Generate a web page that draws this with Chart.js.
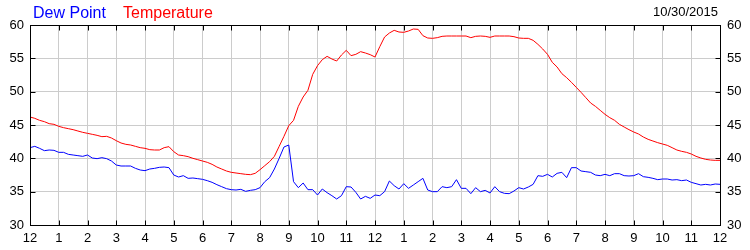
<!DOCTYPE html>
<html>
<head>
<meta charset="utf-8">
<script src="https://cdn.jsdelivr.net/npm/chart.js@4.4.1/dist/chart.umd.min.js"></script>
<style>
  html, body { margin: 0; padding: 0; background: #fff; }
  #wrap { width: 750px; height: 250px; }
</style>
</head>
<body>
<div id="wrap"><canvas id="weatherChart" width="750" height="250"></canvas></div>
<script>
// data, one sample every 10 minutes, midnight to midnight
const chartDate = '10/30/2015';
const seriesNames = ['Dew Point', 'Temperature'];
const hourLabels = ['12','1','2','3','4','5','6','7','8','9','10','11',
                    '12','1','2','3','4','5','6','7','8','9','10','11','12'];
const stepHours = 1 / 6;

const temperature = [
  46.2, 46.0, 45.7, 45.5, 45.2, 45.1,
  44.8, 44.6, 44.45, 44.3, 44.1, 43.9,
  43.75, 43.6, 43.45, 43.25, 43.3, 43.05,
  42.65, 42.3, 42.1, 42.0, 41.8, 41.6,
  41.5, 41.3, 41.25, 41.25, 41.6, 41.75,
  41.0, 40.5, 40.4, 40.25, 40.0, 39.8,
  39.6, 39.4, 39.1, 38.7, 38.4, 38.1,
  37.9, 37.8, 37.7, 37.6, 37.55, 37.75,
  38.3, 38.9, 39.5, 40.3, 41.8, 43.3,
  44.9, 45.7, 47.8, 49.2, 50.2, 52.6,
  53.9, 54.8, 55.3, 54.9, 54.6, 55.5,
  56.2, 55.4, 55.6, 56.0, 55.8, 55.55,
  55.2, 56.75, 58.2, 58.8, 59.2, 58.95,
  58.9, 59.1, 59.4, 59.35, 58.4, 58.05,
  58.0, 58.1, 58.3, 58.35, 58.35, 58.35,
  58.35, 58.35, 58.1, 58.3, 58.35, 58.3,
  58.15, 58.35, 58.35, 58.35, 58.35, 58.25,
  58.05, 58.0, 58.0, 57.7, 57.1, 56.4,
  55.6, 54.4, 53.7, 52.7, 52.1, 51.4,
  50.65, 49.9, 49.1, 48.3, 47.8, 47.2,
  46.6, 46.1, 45.7, 45.1, 44.7, 44.3,
  43.95, 43.65, 43.2, 42.85, 42.6, 42.35,
  42.15, 41.95, 41.6, 41.25, 41.05, 40.9,
  40.65, 40.3, 40.05, 39.85, 39.75, 39.7,
  39.7
];

const dewPoint = [
  41.6, 41.8, 41.5, 41.15, 41.25, 41.2,
  40.9, 40.9, 40.6, 40.5, 40.4, 40.3,
  40.5, 40.05, 39.95, 40.1, 39.95, 39.6,
  39.0, 38.85, 38.85, 38.85, 38.5, 38.25,
  38.15, 38.4, 38.5, 38.65, 38.7, 38.6,
  37.5, 37.2, 37.4, 37.0, 37.05, 36.95,
  36.85, 36.65, 36.4, 36.05, 35.75, 35.45,
  35.3, 35.25, 35.35, 35.05, 35.2, 35.3,
  35.6, 36.5, 37.1, 38.4, 40.0, 41.7,
  42.0, 36.5, 35.6, 36.3, 35.3, 35.3,
  34.5, 35.4, 34.85, 34.4, 33.9, 34.4,
  35.75, 35.7, 34.9, 33.9, 34.3, 34.0,
  34.5, 34.4, 35.0, 36.6, 35.9, 35.4,
  36.2, 35.5, 36.0, 36.5, 37.0, 35.25,
  35.0, 35.0, 35.75, 35.6, 35.75, 36.8,
  35.5, 35.5, 34.7, 35.6, 35.0, 35.2,
  34.8, 35.75, 35.0, 34.75, 34.7, 35.1,
  35.6, 35.4, 35.7, 36.1, 37.4, 37.3,
  37.6, 37.2, 37.75, 37.9, 37.1, 38.6,
  38.6, 38.1, 38.0, 37.9, 37.5, 37.4,
  37.6, 37.4, 37.7, 37.7, 37.4, 37.35,
  37.4, 37.7, 37.25, 37.15, 37.0, 36.8,
  36.9, 36.9, 36.75, 36.8, 36.65, 36.75,
  36.4, 36.2, 36.0, 36.1, 36.0, 36.15,
  36.1
];

const FONT = '"Liberation Sans", Arial, sans-serif';

function toPoints(values) {
  return values.map((v, i) => ({ x: i * stepHours, y: v }));
}

// black frame + short ticks pointing inward on all four sides
const framePlugin = {
  id: 'frame',
  afterDraw(chart) {
    const { ctx, chartArea: a, scales } = chart;
    ctx.save();
    ctx.strokeStyle = '#000';
    ctx.lineWidth = 1;
    const L = Math.round(a.left) + 0.5, R = Math.round(a.right) + 0.5;
    const T = Math.round(a.top) + 0.5, B = Math.round(a.bottom) + 0.5;
    ctx.strokeRect(L, T, R - L, B - T);
    ctx.beginPath();
    scales.x.ticks.forEach(t => {
      const px = Math.round(scales.x.getPixelForValue(t.value)) + 0.5;
      ctx.moveTo(px, T); ctx.lineTo(px, T + 5);
      ctx.moveTo(px, B); ctx.lineTo(px, B - 5);
    });
    scales.y.ticks.forEach(t => {
      const py = Math.round(scales.y.getPixelForValue(t.value)) + 0.5;
      ctx.moveTo(L, py); ctx.lineTo(L + 5, py);
      ctx.moveTo(R, py); ctx.lineTo(R - 5, py);
    });
    ctx.stroke();
    ctx.restore();
  }
};

// coloured series names top-left, date top-right
const headerPlugin = {
  id: 'header',
  afterDraw(chart) {
    const ctx = chart.ctx;
    ctx.save();
    ctx.textBaseline = 'alphabetic';
    ctx.font = '16px ' + FONT;
    ctx.textAlign = 'left';
    ctx.fillStyle = '#0000ff';
    ctx.fillText(seriesNames[0], 33, 18);
    ctx.fillStyle = '#ff0000';
    ctx.fillText(seriesNames[1], 123, 18);
    ctx.font = '13px ' + FONT;
    ctx.fillStyle = '#000';
    ctx.textAlign = 'right';
    ctx.fillText(chartDate, 718, 16);
    ctx.restore();
  }
};

const tickFont = { size: 13, family: FONT };

new Chart(document.getElementById('weatherChart'), {
  type: 'line',
  data: {
    datasets: [
      { label: seriesNames[0], data: toPoints(dewPoint), borderColor: '#0000ff',
        borderWidth: 1, pointRadius: 0, tension: 0, fill: false },
      { label: seriesNames[1], data: toPoints(temperature), borderColor: '#ff0000',
        borderWidth: 1, pointRadius: 0, tension: 0, fill: false }
    ]
  },
  options: {
    responsive: false,
    animation: false,
    events: [],
    layout: { padding: { top: 25, left: 0, right: 0, bottom: 0 } },
    plugins: { legend: { display: false }, tooltip: { enabled: false } },
    scales: {
      x: {
        type: 'linear', min: 0, max: 24,
        afterFit: s => { s.height = 25; },
        border: { display: false },
        grid: { color: '#cccccc', drawTicks: false },
        ticks: { stepSize: 1, autoSkip: false, maxRotation: 0, padding: 6,
                 color: '#000', font: tickFont, callback: v => hourLabels[v] }
      },
      y: {
        position: 'left', min: 30, max: 60,
        afterFit: s => { s.width = 30; },
        border: { display: false },
        grid: { color: '#cccccc', drawTicks: false },
        ticks: { stepSize: 5, padding: 6, color: '#000', font: tickFont }
      },
      y2: {
        position: 'right', min: 30, max: 60,
        afterFit: s => { s.width = 30; },
        border: { display: false },
        grid: { drawOnChartArea: false, drawTicks: false },
        ticks: { stepSize: 5, padding: 7, color: '#000', font: tickFont }
      }
    }
  },
  plugins: [framePlugin, headerPlugin]
});
</script>
</body>
</html>
